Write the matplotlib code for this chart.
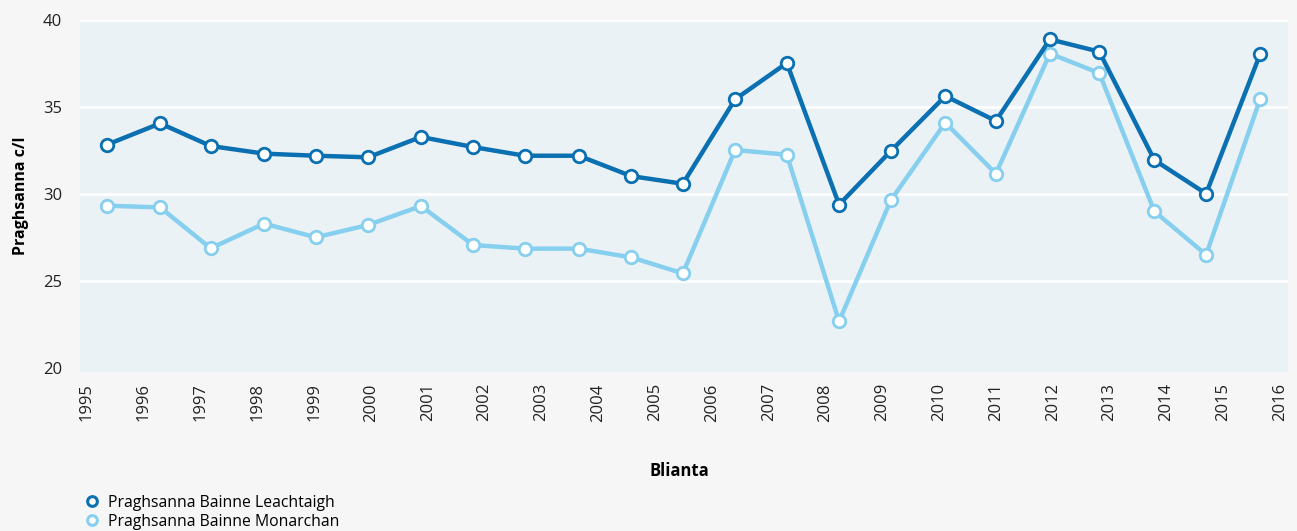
import matplotlib.pyplot as plt
from matplotlib.lines import Line2D

plt.rcParams["font.family"] = ["Open Sans", "DejaVu Sans"]

# point positions on the year axis
x_pos = [1995.35, 1996.29, 1997.18, 1998.12, 1999.03, 1999.95, 2000.88, 2001.80,
         2002.71, 2003.66, 2004.58, 2005.49, 2006.41, 2007.32, 2008.24, 2009.15,
         2010.11, 2011.00, 2011.95, 2012.82, 2013.79, 2014.70, 2015.65]
leachtaigh = [32.83, 34.06, 32.76, 32.32, 32.20, 32.11, 33.28, 32.70,
              32.20, 32.20, 31.03, 30.59, 35.44, 37.53, 29.39, 32.47,
              35.63, 34.20, 38.89, 38.18, 31.95, 30.02, 38.03]
monarchan = [29.33, 29.23, 26.88, 28.30, 27.51, 28.22, 29.31, 27.07,
             26.86, 26.86, 26.36, 25.44, 32.53, 32.26, 22.68, 29.64,
             34.10, 31.17, 38.07, 36.95, 29.00, 26.51, 35.44]
year_ticks = list(range(1995, 2017))
y_ticks = [20, 25, 30, 35, 40]

dark = "#0a70b2"
light = "#86cfee"

fig = plt.figure(figsize=(12.97, 5.31), dpi=100, facecolor="#f6f6f6")
ax = fig.add_axes([0.0617, 0.2994, 0.9313, 0.6629])
ax.set_facecolor("#ebf2f6")

for vals, col in [(monarchan, light), (leachtaigh, dark)]:
    ax.plot(x_pos, vals, color=col, lw=3.2, marker="o", ms=9,
            mfc="white", mec=col, mew=2.0, zorder=3)

ax.set_xlim(1994.88, 2016.14)
ax.set_ylim(19.77, 40)
ax.set_xticks(year_ticks)
ax.set_xticklabels([str(y) for y in year_ticks], rotation=90, fontsize=12,
                   color="#222222")
ax.set_yticks(y_ticks)
ax.set_yticklabels([str(v) for v in y_ticks], fontsize=12, color="#222222")
ax.tick_params(axis="x", length=0, pad=8)
ax.tick_params(axis="y", length=0, pad=13)

for v in y_ticks[1:]:
    ax.axhline(v, color="white", lw=2, zorder=1)
for s in ax.spines.values():
    s.set_visible(False)

ax.set_ylabel("Praghsanna c/l", fontsize=11.5, fontweight="bold", labelpad=10)
fig.text(0.524, 0.113, "Blianta", fontsize=12, fontweight="bold",
         ha="center", va="center")

handles = [
    Line2D([], [], ls="none", marker="o", ms=7, mfc="white", mec=dark, mew=2.2),
    Line2D([], [], ls="none", marker="o", ms=7, mfc="white", mec=light, mew=2.2),
]
fig.legend(handles, ["Praghsanna Bainne Leachtaigh", "Praghsanna Bainne Monarchan"],
           loc="upper left", bbox_to_anchor=(0.060, 0.080), frameon=False,
           fontsize=11.3, handletextpad=0.5, labelspacing=0.2,
           borderaxespad=0, handlelength=1.0)

fig.savefig("out.png", dpi=100, facecolor=fig.get_facecolor())
